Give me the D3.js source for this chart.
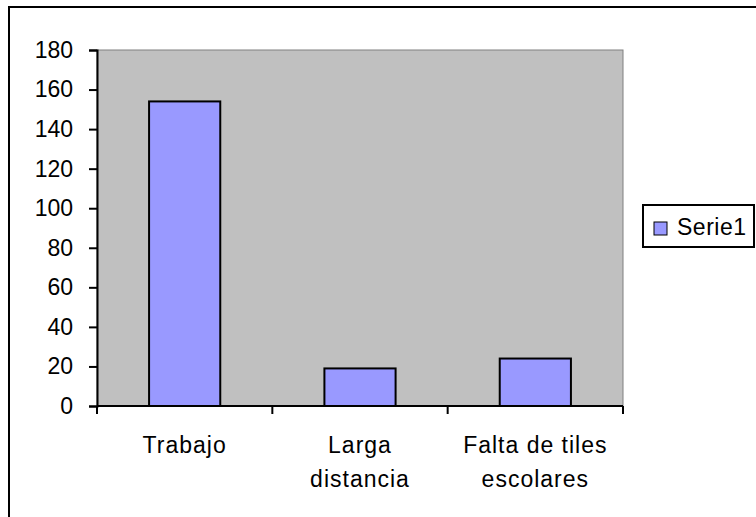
<!DOCTYPE html>
<html>
<head>
<meta charset="utf-8">
<script src="https://cdn.jsdelivr.net/npm/d3@7"></script>
<style>
  body { margin: 0; background: #fff; }
  text { font-family: "Liberation Sans", Arial, sans-serif; fill: #000; }
</style>
</head>
<body>
<svg id="chart" width="756" height="517"></svg>
<script>
// chart values
var categories = [["Trabajo"], ["Larga", "distancia"], ["Falta de tiles", "escolares"]];
var serie1 = [154, 19, 24];
var yTicks = [0, 20, 40, 60, 80, 100, 120, 140, 160, 180];
var seriesName = "Serie1";

var fontSize = 23;
var svg = d3.select("#chart");

// outer chart frame (runs off the right and bottom edge)
svg.append("rect")
    .attr("x", 9).attr("y", 7)
    .attr("width", 800).attr("height", 600)
    .attr("fill", "#fff")
    .attr("stroke", "#000")
    .attr("stroke-width", 2);

var plot = { left: 97, top: 50, right: 623, bottom: 406 };

var y = d3.scaleLinear()
    .domain([0, 180])
    .range([plot.bottom, plot.top]);

var x = d3.scaleBand()
    .domain(d3.range(categories.length))
    .range([plot.left, plot.right])
    .paddingInner(0.594)
    .paddingOuter(0.297);

// gray plot area
svg.append("rect")
    .attr("x", plot.left).attr("y", plot.top)
    .attr("width", plot.right - plot.left)
    .attr("height", plot.bottom - plot.top)
    .attr("fill", "#c0c0c0")
    .attr("stroke", "#808080")
    .attr("stroke-width", 1);

// bars
svg.selectAll(".bar")
    .data(serie1)
    .enter().append("rect")
    .attr("class", "bar")
    .attr("x", function(d, i) { return x(i); })
    .attr("y", function(d) { return y(d); })
    .attr("width", x.bandwidth())
    .attr("height", function(d) { return plot.bottom - y(d); })
    .attr("fill", "#9999ff")
    .attr("stroke", "#000")
    .attr("stroke-width", 2);

// y axis
var yAxis = svg.append("g")
    .attr("transform", "translate(" + plot.left + ",0)")
    .call(d3.axisLeft(y).tickValues(yTicks).tickSize(8).tickPadding(16));
yAxis.select(".domain").attr("stroke", "#000").attr("stroke-width", 2);
yAxis.selectAll(".tick line").attr("stroke", "#000").attr("stroke-width", 2);
yAxis.selectAll("text")
    .attr("font-size", fontSize)
    .attr("font-family", "Liberation Sans, Arial, sans-serif")
    .attr("fill", "#000");

// x axis line + category boundary ticks
var step = x.step();
svg.append("line")
    .attr("x1", plot.left).attr("x2", plot.right)
    .attr("y1", plot.bottom).attr("y2", plot.bottom)
    .attr("stroke", "#000").attr("stroke-width", 2);

svg.selectAll(".xtick")
    .data(d3.range(categories.length + 1))
    .enter().append("line")
    .attr("class", "xtick")
    .attr("x1", function(i) { return plot.left + i * step; })
    .attr("x2", function(i) { return plot.left + i * step; })
    .attr("y1", plot.bottom)
    .attr("y2", plot.bottom + 8)
    .attr("stroke", "#000").attr("stroke-width", 2);

// category labels (old excel rendering is a bit wider, hence letter-spacing)
var labels = svg.selectAll(".xlabel")
    .data(categories)
    .enter().append("text")
    .attr("class", "xlabel")
    .attr("x", function(d, i) { return x(i) + x.bandwidth() / 2; })
    .attr("y", 453)
    .attr("text-anchor", "middle")
    .attr("font-size", fontSize)
    .style("letter-spacing", "1px");

labels.selectAll("tspan")
    .data(function(d) { return d; })
    .enter().append("tspan")
    .attr("x", function() { return d3.select(this.parentNode).attr("x"); })
    .attr("dy", function(d, i) { return i === 0 ? 0 : 34; })
    .text(function(d) { return d; });

// legend
var legend = svg.append("g");
legend.append("rect")
    .attr("x", 643).attr("y", 205)
    .attr("width", 111).attr("height", 42)
    .attr("fill", "#fff")
    .attr("stroke", "#000")
    .attr("stroke-width", 2);
legend.append("rect")
    .attr("x", 654).attr("y", 222)
    .attr("width", 13).attr("height", 13)
    .attr("fill", "#9999ff")
    .attr("stroke", "#000")
    .attr("stroke-width", 1);
legend.append("text")
    .attr("x", 677).attr("y", 235)
    .attr("font-size", fontSize)
    .style("letter-spacing", "0.5px")
    .text(seriesName);
</script>
</body>
</html>
